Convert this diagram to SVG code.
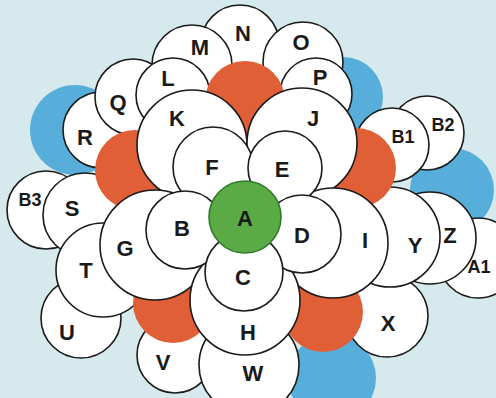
<svg xmlns="http://www.w3.org/2000/svg" width="496" height="398" viewBox="0 0 496 398">
<style>
.bl{fill:#57aedb;stroke:none}
.or{fill:#e15f36;stroke:none}
.wh{fill:#ffffff;stroke:#1a1a1a;stroke-width:1.6}
.gr{fill:#5aab45;stroke:#2f7a2a;stroke-width:1.6}
text{font-family:"Liberation Sans",Arial,sans-serif;font-weight:bold;font-size:22px;fill:#1a1a1a;text-anchor:middle}
.s{font-size:18px}
</style>
<rect width="496" height="398" fill="#d6e9ec"/>
<g id="blue">
<circle class="bl" cx="75" cy="130" r="45"/>
<circle class="bl" cx="343" cy="97" r="40"/>
<circle class="bl" cx="452" cy="190" r="42"/>
<circle class="bl" cx="332" cy="378" r="44"/>
</g>
<g id="R"><circle class="wh" cx="101" cy="130" r="38"/><text x="85" y="145">R</text></g>
<g id="Q"><circle class="wh" cx="133" cy="97" r="38"/><text x="118" y="110">Q</text></g>
<g id="N"><circle class="wh" cx="240" cy="44" r="39"/><text x="243" y="41">N</text></g>
<g id="M"><circle class="wh" cx="192" cy="65" r="40"/><text x="200" y="55">M</text></g>
<g id="L"><circle class="wh" cx="173" cy="95" r="37"/><text x="168" y="86">L</text></g>
<g id="O"><circle class="wh" cx="303" cy="62" r="40"/><text x="301" y="50">O</text></g>
<g id="P"><circle class="wh" cx="316" cy="94" r="36"/><text x="320" y="85">P</text></g>
<g id="B2"><circle class="wh" cx="427" cy="133" r="37"/><text class="s" x="443" y="131">B2</text></g>
<g id="B1"><circle class="wh" cx="392" cy="145" r="37"/><text class="s" x="403" y="143">B1</text></g>
<g id="B3"><circle class="wh" cx="46" cy="210" r="39"/><text class="s" x="30" y="206">B3</text></g>
<g id="S"><circle class="wh" cx="85" cy="215" r="42"/><text x="72" y="216">S</text></g>
<g id="U"><circle class="wh" cx="81" cy="318" r="40"/><text x="67" y="340">U</text></g>
<g id="T"><circle class="wh" cx="103" cy="270" r="47"/><text x="86" y="278">T</text></g>
<g id="V"><circle class="wh" cx="175" cy="355" r="38"/><text x="163" y="370">V</text></g>
<g id="W"><circle class="wh" cx="249" cy="365" r="50"/><text x="253" y="381">W</text></g>
<g id="X"><circle class="wh" cx="387" cy="316" r="41"/><text x="388" y="331">X</text></g>
<g id="A1"><circle class="wh" cx="478" cy="258" r="40"/><text class="s" x="479" y="273">A1</text></g>
<g id="Z"><circle class="wh" cx="430" cy="238" r="46"/><text x="450" y="243">Z</text></g>
<g id="Y"><circle class="wh" cx="390" cy="237" r="50"/><text x="415" y="253">Y</text></g>
<g id="orange">
<circle class="or" cx="245" cy="101" r="40"/>
<circle class="or" cx="135" cy="170" r="40"/>
<circle class="or" cx="356" cy="168" r="40"/>
<circle class="or" cx="173" cy="303" r="40"/>
<circle class="or" cx="323" cy="312" r="40"/>
</g>
<g id="K"><circle class="wh" cx="192" cy="145" r="55"/><text x="177" y="126">K</text></g>
<g id="J"><circle class="wh" cx="302" cy="143" r="55"/><text x="313" y="126">J</text></g>
<g id="G"><circle class="wh" cx="155" cy="245" r="55"/><text x="125" y="256">G</text></g>
<g id="I"><circle class="wh" cx="333" cy="243" r="55"/><text x="365" y="248">I</text></g>
<g id="H"><circle class="wh" cx="245" cy="300" r="55"/><text x="248" y="340">H</text></g>
<g id="F"><circle class="wh" cx="213" cy="167" r="40"/><text x="212" y="175">F</text></g>
<g id="E"><circle class="wh" cx="285" cy="168" r="37"/><text x="282" y="177">E</text></g>
<g id="B"><circle class="wh" cx="185" cy="230" r="39"/><text x="182" y="236">B</text></g>
<g id="D"><circle class="wh" cx="302" cy="234" r="39"/><text x="302" y="243">D</text></g>
<g id="C"><circle class="wh" cx="244" cy="272" r="39"/><text x="243" y="285">C</text></g>
<g id="A"><circle class="gr" cx="245" cy="217" r="36"/><text x="245" y="226">A</text></g>
<g id="connectors"></g>
</svg>
